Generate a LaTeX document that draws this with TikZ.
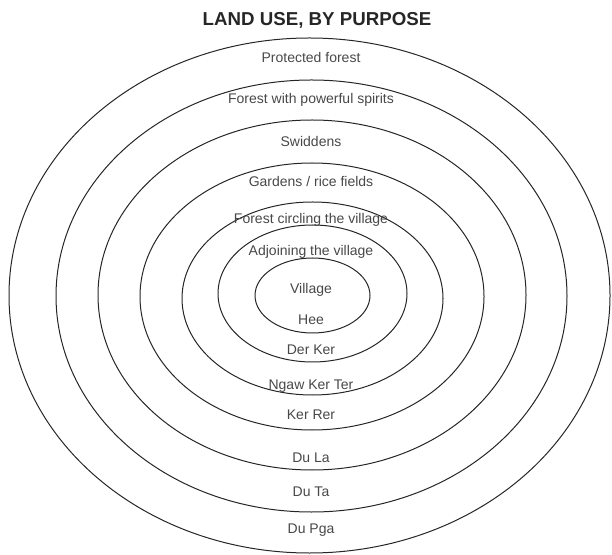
\documentclass[tikz,border=0pt]{standalone}
\usepackage{fontspec}
\setmainfont{Liberation Sans}
\usetikzlibrary{positioning}
\definecolor{ink}{HTML}{262626}
\definecolor{labelgray}{HTML}{484848}
\tikzset{
  ring/.style={
    draw=ink,
    line width=1pt
  },
  zone/.style={
    text=labelgray,
    inner sep=1pt,
    font=\fontsize{14}{16}\selectfont
  },
  heading/.style={
    text=ink,
    font=\bfseries\fontsize{18.7}{21}\selectfont
  }
}

\begin{document}
\begin{tikzpicture}[x=1pt,y=1pt]
  \useasboundingbox (0,0) rectangle (612,554);

  \node[heading] (title) at (317,534) {LAND USE, BY PURPOSE};

  % rings, outermost first
  \draw[ring] (309.5,258.5) ellipse [x radius=300.5, y radius=257.5];
  \draw[ring] (311.5,258) ellipse [x radius=255.5, y radius=216];
  \draw[ring] (312,259) ellipse [x radius=214, y radius=175];
  \draw[ring] (312,257.5) ellipse [x radius=172, y radius=133.5];
  \draw[ring] (312.5,255.5) ellipse [x radius=130.5, y radius=96.5];
  \draw[ring] (312.5,260.5) ellipse [x radius=94.5, y radius=68.5];
  \draw[ring] (312.5,258.5) ellipse [x radius=57.5, y radius=37.5];

  % purposes, top half
  \node[zone] (protected) at (311,496) {Protected forest};
  \node[zone] (spirits) at (311,454) {Forest with powerful spirits};
  \node[zone] (swiddens) at (311,412) {Swiddens};
  \node[zone] (gardens) at (311,372) {Gardens / rice fields};
  \node[zone] (circling) at (311,334) {Forest circling the village};
  \node[zone] (adjoining) at (311,302) {Adjoining the village};
  \node[zone] (village) at (311,264) {Village};

  % local names, bottom half
  \node[zone] (hee) at (311,234) {Hee};
  \node[zone] (derker) at (311,204) {Der Ker};
  \node[zone] (ngawkerter) at (311,168) {Ngaw Ker Ter};
  \node[zone] (kerrer) at (311,139) {Ker Rer};
  \node[zone] (dula) at (311,96) {Du La};
  \node[zone] (duta) at (311,62) {Du Ta};
  \node[zone] (dupga) at (311,24) {Du Pga};
\end{tikzpicture}
\end{document}
